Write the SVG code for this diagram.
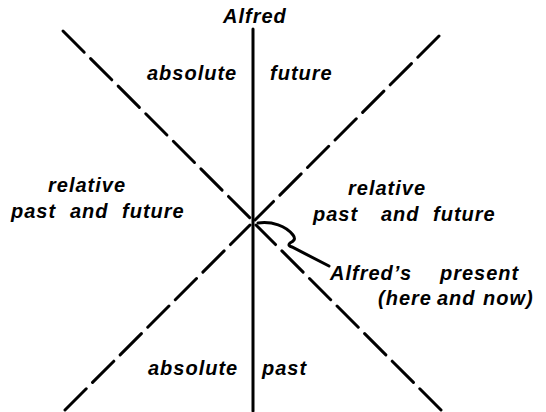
<svg xmlns="http://www.w3.org/2000/svg" width="546" height="412" viewBox="0 0 546 412">
<style>
.ln{stroke:#000;stroke-width:3;fill:none;stroke-linecap:round}
.dash{stroke-dasharray:30 9}
text{font-family:"Liberation Sans",Arial,sans-serif;font-weight:bold;font-style:italic;font-size:20px;letter-spacing:1px;fill:#000}
</style>
<rect width="546" height="412" fill="#fff"/>
<g id="connectors">
<line class="ln" x1="253" y1="29" x2="253" y2="411"/>
<line class="ln dash" x1="63" y1="31" x2="253" y2="221"/>
<line class="ln dash" x1="441" y1="410" x2="256" y2="225"/>
<line class="ln dash" x1="439" y1="36" x2="255" y2="220"/>
<line class="ln dash" x1="65" y1="410" x2="250" y2="225"/>
<path class="ln" stroke-width="2.2" d="M258,223 C272,221 286,226 293,235 C296,239 294,241 290,243 C288,245 289,246 292,247 L329,266"/>
</g>
<g id="alfred"><text x="223" y="23">Alfred</text></g>
<g id="absolute-future"><text y="80"><tspan x="147">absolute </tspan><tspan x="270">future</tspan></text></g>
<g id="relative-left"><text x="48" y="192">relative</text><text y="218"><tspan x="11">past </tspan><tspan x="70">and </tspan><tspan x="122">future</tspan></text></g>
<g id="relative-right"><text x="348" y="195">relative</text><text y="221"><tspan x="313">past </tspan><tspan x="381">and </tspan><tspan x="433">future</tspan></text></g>
<g id="present"><text y="280"><tspan x="330">Alfred’s </tspan><tspan x="440">present</tspan></text><text y="305"><tspan x="378">(here </tspan><tspan x="437">and </tspan><tspan x="483">now)</tspan></text></g>
<g id="absolute-past"><text y="375"><tspan x="148">absolute </tspan><tspan x="262">past</tspan></text></g>
</svg>
